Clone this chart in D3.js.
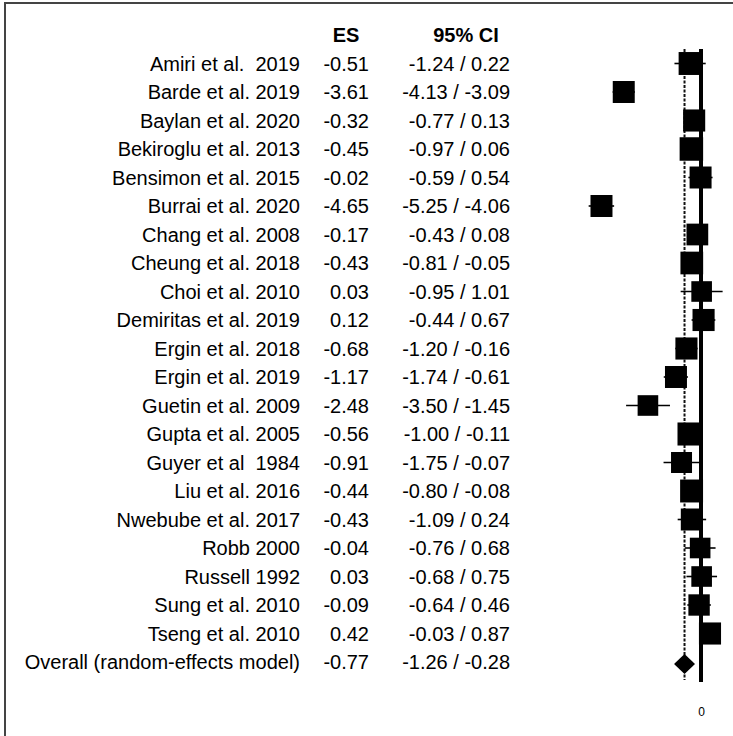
<!DOCTYPE html>
<html>
<head>
<meta charset="utf-8">
<script src="https://cdn.jsdelivr.net/npm/d3@7"></script>
<style>
  html, body { margin: 0; padding: 0; background: #fff; }
  svg { display: block; }
  text { font-family: "Liberation Sans", Arial, Helvetica, sans-serif; fill: #000; }
</style>
</head>
<body>
<svg id="chart" width="733" height="736"></svg>
<script>
// ---- data ----
const studies = [
  "Amiri et al.  2019", "Barde et al. 2019", "Baylan et al. 2020", "Bekiroglu et al. 2013",
  "Bensimon et al. 2015", "Burrai et al. 2020", "Chang et al. 2008", "Cheung et al. 2018",
  "Choi et al. 2010", "Demiritas et al. 2019", "Ergin et al. 2018", "Ergin et al. 2019",
  "Guetin et al. 2009", "Gupta et al. 2005", "Guyer et al  1984", "Liu et al. 2016",
  "Nwebube et al. 2017", "Robb 2000", "Russell 1992", "Sung et al. 2010", "Tseng et al. 2010"
];
const es    = [-0.51, -3.61, -0.32, -0.45, -0.02, -4.65, -0.17, -0.43, 0.03, 0.12, -0.68, -1.17, -2.48, -0.56, -0.91, -0.44, -0.43, -0.04, 0.03, -0.09, 0.42];
const ciLow = [-1.24, -4.13, -0.77, -0.97, -0.59, -5.25, -0.43, -0.81, -0.95, -0.44, -1.20, -1.74, -3.50, -1.00, -1.75, -0.80, -1.09, -0.76, -0.68, -0.64, -0.03];
const ciHigh= [0.22, -3.09, 0.13, 0.06, 0.54, -4.06, 0.08, -0.05, 1.01, 0.67, -0.16, -0.61, -1.45, -0.11, -0.07, -0.08, 0.24, 0.68, 0.75, 0.46, 0.87];
const weights = [4.95, 4.55, 4.6, 5.2, 4.55, 4.55, 4.45, 4.85, 4.0, 4.6, 4.6, 4.55, 4.0, 5.0, 4.15, 4.95, 4.55, 4.0, 4.0, 4.3, 4.6];
const overallLabel = "Overall (random-effects model)";
const overallES = -0.77, overallLow = -1.26, overallHigh = -0.28;
const headers = ["ES", "95% CI"];
const tickValues = [0];

// ---- layout ----
const svg = d3.select("#chart");
const nRows = studies.length + 1;
const y = d3.scaleLinear().domain([0, nRows - 1]).range([63.5, 63.5 + (nRows - 1) * 28.5]);
const x = d3.scaleLinear().domain([-5, 1]).range([594, 722.4]);
const size = d3.scaleSqrt().domain([0, 5.2]).range([0, 23.5]);
const f2 = d3.format(".2f");
const fmt = v => f2(v).replace("\u2212", "-");

// frame
svg.append("path")
  .attr("d", "M5,736 L5,3 L733,3")
  .attr("fill", "none")
  .attr("stroke", "#444")
  .attr("stroke-width", 2);

// headers
svg.append("text").attr("x", 346).attr("y", 35).attr("dy", "0.35em")
  .attr("text-anchor", "middle").attr("font-size", 20).attr("font-weight", "bold").text(headers[0]);
svg.append("text").attr("x", 466).attr("y", 35).attr("dy", "0.35em")
  .attr("text-anchor", "middle").attr("font-size", 20).attr("font-weight", "bold").text(headers[1]);

const rows = studies.map((s, i) => ({ label: s, es: es[i], lo: ciLow[i], hi: ciHigh[i], w: weights[i], i }));
const allRows = rows.concat([{ label: overallLabel, es: overallES, lo: overallLow, hi: overallHigh, i: studies.length }]);

const textG = svg.append("g").attr("font-size", 20);
textG.selectAll("text.lab").data(allRows).join("text")
  .attr("class", "lab")
  .attr("x", 300).attr("y", d => y(d.i)).attr("dy", "0.35em")
  .attr("text-anchor", "end")
  .style("white-space", "pre")
  .text(d => d.label);
textG.selectAll("text.es").data(allRows).join("text")
  .attr("class", "es")
  .attr("x", 369).attr("y", d => y(d.i)).attr("dy", "0.35em")
  .attr("text-anchor", "end")
  .text(d => fmt(d.es));
textG.selectAll("text.ci").data(allRows).join("text")
  .attr("class", "ci")
  .attr("x", 510).attr("y", d => y(d.i)).attr("dy", "0.35em")
  .attr("text-anchor", "end")
  .text(d => fmt(d.lo) + " / " + fmt(d.hi));

// reference lines
svg.append("line")
  .attr("x1", x(0)).attr("x2", x(0))
  .attr("y1", 49).attr("y2", 682)
  .attr("stroke", "#000").attr("stroke-width", 4);
svg.append("line")
  .attr("x1", x(overallES)).attr("x2", x(overallES))
  .attr("y1", 49).attr("y2", 680)
  .attr("stroke", "#111").attr("stroke-width", 2)
  .attr("stroke-dasharray", "3,1.5");

// whiskers
svg.append("g").selectAll("line").data(rows).join("line")
  .attr("x1", d => x(d.lo)).attr("x2", d => x(d.hi))
  .attr("y1", d => y(d.i)).attr("y2", d => y(d.i))
  .attr("stroke", "#000").attr("stroke-width", 1.6);

// squares
svg.append("g").selectAll("rect").data(rows).join("rect")
  .attr("x", d => x(d.es) - size(d.w) / 2)
  .attr("y", d => y(d.i) - size(d.w) / 2)
  .attr("width", d => size(d.w))
  .attr("height", d => size(d.w))
  .attr("fill", "#000");

// diamond
const yc = y(studies.length) + 2;
svg.append("path")
  .attr("d", `M${x(overallLow)},${yc} L${x(overallES)},${yc - 10} L${x(overallHigh)},${yc} L${x(overallES)},${yc + 10} Z`)
  .attr("fill", "#000");

// axis (only the 0 label)
const axis = d3.axisBottom(x).tickValues(tickValues).tickSize(0).tickPadding(8).tickFormat(d3.format("d"));
const ax = svg.append("g").attr("transform", "translate(0,699)").call(axis);
ax.select(".domain").remove();
ax.selectAll("text").attr("font-size", 12).attr("font-family", "\"Liberation Sans\", Arial, sans-serif").attr("fill", "#000");
</script>
</body>
</html>
